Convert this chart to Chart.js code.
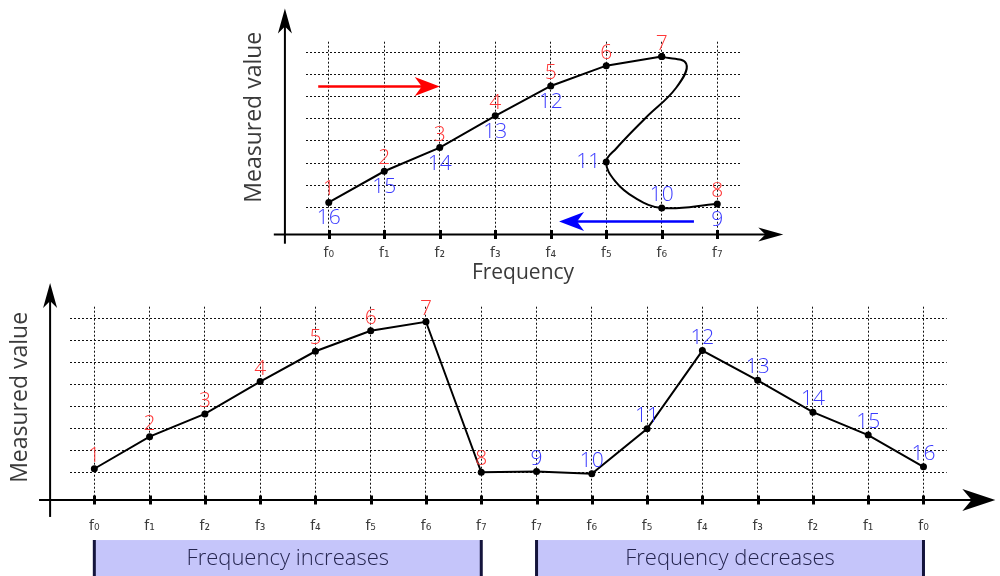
<!DOCTYPE html>
<html>
<head>
<meta charset="utf-8">
<title>Frequency sweep hysteresis</title>
<script src="https://cdn.jsdelivr.net/npm/chart.js@4.4.0/dist/chart.umd.min.js"></script>
<style>
  body { margin: 0; background: #fff; }
  #wrap { position: relative; width: 1000px; height: 576px; overflow: hidden; }
  canvas { position: absolute; left: 0; }
  #top { top: 0; }
  #bottom { top: 280px; }
</style>
</head>
<body>
<div id="wrap">
  <canvas id="top" width="1000" height="290"></canvas>
  <canvas id="bottom" width="1000" height="296"></canvas>
</div>
<script>
// frequency index of every measurement step 1..16 (up sweep, then down sweep)
var stepFreq = [0, 1, 2, 3, 4, 5, 6, 7, 7, 6, 5, 4, 3, 2, 1, 0];
var stepNames = ['1','2','3','4','5','6','7','8','9','10','11','12','13','14','15','16'];
var subDigits = ['\u2080','\u2081','\u2082','\u2083','\u2084','\u2085','\u2086','\u2087'];
var freqLabels = subDigits.map(function (d) { return 'f' + d; });
var sweepLabels = stepFreq.map(function (f) { return freqLabels[f]; });

var topValues = [1.22, 2.63, 3.70, 5.14, 6.49, 7.41, 7.82, 1.15, 1.15, 0.97, 3.05, 6.49, 5.14, 3.70, 2.63, 1.22];
// points the fold curve passes through: step 7 -> 11, then 11 -> 10
var bendFreq = [6.44, 6.26, 5.70, 5.18];
var bendValues = [7.50, 6.41, 5.02, 3.66];
var hookFreq = [5.16, 5.52];
var hookValues = [2.18, 1.42];

var bottomValues = [1.18, 2.64, 3.67, 5.14, 6.52, 7.45, 7.86, 1.02, 1.05, 0.95, 3.00, 6.55, 5.20, 3.75, 2.71, 1.27];

var gridLevels = [1, 2, 3, 4, 5, 6, 7, 8];

var RED = '#ff3838', BLUE = '#3b3bff', INK = '#3a3a3a';
var FAMILY = '"Open Sans", Lato, "DejaVu Sans", sans-serif';
var NUM_FONT = '300 21px ' + FAMILY;

Chart.defaults.font.family = FAMILY;

// where each step number sits on the upper plot
var topSide = ['above','above','above','above','above','above','above','above',
               'below','above','left','below','below','below','below','below'];
var topShift = { above: [0, -13], below: [0, 16], left: [-18, 0] };

function stealth(ctx, x, y, ang, len, half) {
  ctx.save();
  ctx.translate(x, y);
  ctx.rotate(ang);
  ctx.beginPath();
  ctx.moveTo(0, 0);
  ctx.lineTo(-len, -half);
  ctx.lineTo(-len * 0.72, 0);
  ctx.lineTo(-len, half);
  ctx.closePath();
  ctx.fill();
  ctx.restore();
}

var decor = {
  id: 'decor',
  beforeDatasetsDraw: function (chart, args, o) {
    var ctx = chart.ctx, xs = chart.scales.x, ys = chart.scales.y;
    var px = function (v) { return xs.getPixelForValue(v); };
    var py = function (v) { return ys.getPixelForValue(v); };
    var base = chart.chartArea.bottom;
    ctx.save();
    ctx.strokeStyle = '#000';
    ctx.fillStyle = '#000';
    ctx.lineWidth = 2;
    // x axis with arrow
    var xa = o.xAxis;
    ctx.beginPath();
    ctx.moveTo(px(xa.from), base);
    ctx.lineTo(px(xa.to) - xa.head[0] * 0.6, base);
    ctx.stroke();
    stealth(ctx, px(xa.to), base, 0, xa.head[0], xa.head[1]);
    // y axis with arrow
    var ya = o.yAxis;
    ctx.beginPath();
    ctx.moveTo(px(ya.at), py(ya.from));
    ctx.lineTo(px(ya.at), py(ya.to) + ya.head[0] * 0.6);
    ctx.stroke();
    stealth(ctx, px(ya.at), py(ya.to), -Math.PI / 2, ya.head[0], ya.head[1]);
    // tick marks across the axis
    ctx.lineWidth = 3;
    xs.ticks.forEach(function (t) {
      var x = Math.round(px(t.value)) + 0.5;
      ctx.beginPath();
      ctx.moveTo(x, base - 4.5);
      ctx.lineTo(x, base + 4.5);
      ctx.stroke();
    });
    // coloured sweep arrows
    (o.arrows || []).forEach(function (a) {
      var x1 = px(a.from[0]), y1 = py(a.from[1]), x2 = px(a.to[0]), y2 = py(a.to[1]);
      var ang = Math.atan2(y2 - y1, x2 - x1);
      ctx.strokeStyle = a.color;
      ctx.fillStyle = a.color;
      ctx.lineWidth = 2.5;
      ctx.beginPath();
      ctx.moveTo(x1, y1);
      ctx.lineTo(x2 - 15 * Math.cos(ang), y2 - 15 * Math.sin(ang));
      ctx.stroke();
      stealth(ctx, x2, y2, ang, 25, 9.5);
    });
    // sweep-direction boxes under the axis
    (o.boxes || []).forEach(function (b) {
      var x1 = px(b.from), x2 = px(b.to), y1 = py(b.top), y2 = py(b.bottom);
      ctx.fillStyle = '#c5c5fa';
      ctx.fillRect(x1, y1, x2 - x1, y2 - y1);
      ctx.strokeStyle = '#14143c';
      ctx.lineWidth = 3;
      ctx.beginPath();
      ctx.moveTo(x1, y1); ctx.lineTo(x1, y2);
      ctx.moveTo(x2, y1); ctx.lineTo(x2, y2);
      ctx.stroke();
      ctx.fillStyle = '#25254f';
      ctx.font = '300 22px ' + FAMILY;
      ctx.textAlign = 'center';
      ctx.textBaseline = 'middle';
      ctx.fillText(b.text, (x1 + x2) / 2, (y1 + y2) / 2 + 1);
    });
    ctx.restore();
  },
  afterDatasetsDraw: function (chart, args, o) {
    var ctx = chart.ctx, xs = chart.scales.x, ys = chart.scales.y;
    ctx.save();
    ctx.font = NUM_FONT;
    ctx.textAlign = 'center';
    ctx.textBaseline = 'middle';
    o.tags.forEach(function (t) {
      var s = topShift[t.side];
      ctx.fillStyle = t.color;
      ctx.fillText(t.text, xs.getPixelForValue(t.x) + s[0], ys.getPixelForValue(t.y) + s[1]);
    });
    ctx.restore();
  }
};

function freqTicks(n) {
  return function (s) {
    s.ticks = [];
    for (var i = 0; i < n; i++) s.ticks.push({ value: i });
  };
}
function levelTicks(s) {
  s.ticks = gridLevels.map(function (v) { return { value: v }; });
}
function gridOpts() {
  return { color: '#111', lineWidth: 1, drawTicks: false };
}
var tickFont = { family: '"DejaVu Sans", sans-serif', size: 14 };

// ---------- upper plot: value against frequency ----------
var upPts = [];
for (var i = 0; i < 7; i++) upPts.push({ x: stepFreq[i], y: topValues[i] });
// fold: step 7, round the bend, step 11, hook, step 10, step 8
var foldPts = [{ x: stepFreq[6], y: topValues[6] }];
var foldRadius = [3.5];
bendFreq.forEach(function (f, k) { foldPts.push({ x: f, y: bendValues[k] }); foldRadius.push(0); });
foldPts.push({ x: stepFreq[10], y: topValues[10] }); foldRadius.push(3.5);
hookFreq.forEach(function (f, k) { foldPts.push({ x: f, y: hookValues[k] }); foldRadius.push(0); });
foldPts.push({ x: stepFreq[9], y: topValues[9] }); foldRadius.push(3.5);
foldPts.push({ x: stepFreq[7], y: topValues[7] }); foldRadius.push(3.5);

var topTags = stepNames.map(function (n, k) {
  return { text: n, x: stepFreq[k], y: topValues[k], side: topSide[k], color: k < 8 ? RED : BLUE };
});

new Chart(document.getElementById('top'), {
  type: 'line',
  data: {
    datasets: [
      { data: upPts, borderColor: '#000', borderWidth: 2, tension: 0,
        pointRadius: 3.5, pointBackgroundColor: '#000', pointBorderWidth: 0 },
      { data: foldPts, borderColor: '#000', borderWidth: 2, tension: 0.4,
        pointRadius: foldRadius, pointBackgroundColor: '#000', pointBorderWidth: 0 }
    ]
  },
  options: {
    responsive: false, animation: false, devicePixelRatio: 1,
    layout: { padding: { top: 41.7, right: 260, bottom: 0, left: 0 } },
    plugins: {
      legend: { display: false }, tooltip: { enabled: false },
      decor: {
        xAxis: { from: -0.99, to: 8.19, head: [25, 7] },
        yAxis: { at: -0.79, from: -0.65, to: 10.0, head: [25, 7] },
        arrows: [
          { from: [-0.19, 6.47], to: [2.0, 6.47], color: '#ff0000' },
          { from: [6.58, 0.35], to: [4.15, 0.35], color: '#0000ff' }
        ],
        tags: topTags
      }
    },
    scales: {
      x: {
        type: 'linear', min: -0.41, max: 7.41,
        afterBuildTicks: freqTicks(freqLabels.length),
        ticks: { callback: function (v) { return freqLabels[v]; }, padding: 10.6, color: INK,
                 font: tickFont, autoSkip: false, maxRotation: 0 },
        grid: gridOpts(), border: { display: false, dash: [2, 2] },
        title: { display: true, text: 'Frequency', color: INK, font: { size: 21 },
                 padding: { top: -11.7, bottom: 4 } }
      },
      y: {
        type: 'linear', min: -0.233, max: 8.495,
        afterBuildTicks: levelTicks,
        ticks: { display: false },
        grid: gridOpts(), border: { display: false, dash: [2, 2] },
        title: { display: true, text: '       Measured value', color: INK, font: { size: 23 },
                 padding: { top: 240.2, bottom: 38.2 } }
      }
    }
  },
  plugins: [decor]
});

// ---------- lower plot: value against step of the sweep ----------
var sweepPts = bottomValues.map(function (v, k) { return { x: k, y: v }; });
var bottomTags = stepNames.map(function (n, k) {
  return { text: n, x: k, y: bottomValues[k], side: 'above', color: k < 8 ? RED : BLUE };
});

new Chart(document.getElementById('bottom'), {
  type: 'line',
  data: {
    datasets: [
      { data: sweepPts, borderColor: '#000', borderWidth: 2, tension: 0,
        pointRadius: 3.5, pointBackgroundColor: '#000', pointBorderWidth: 0 }
    ]
  },
  options: {
    responsive: false, animation: false, devicePixelRatio: 1,
    layout: { padding: { top: 26.7, right: 53.3, bottom: 24, left: 0 } },
    plugins: {
      legend: { display: false }, tooltip: { enabled: false },
      decor: {
        xAxis: { from: -1.0, to: 16.3, head: [33, 11] },
        yAxis: { at: -0.8, from: -1.01, to: 9.62, head: [25, 7] },
        boxes: [
          { from: 0, to: 7, top: -2.06, bottom: -3.7, text: 'Frequency increases' },
          { from: 8, to: 15, top: -2.06, bottom: -3.7, text: 'Frequency decreases' }
        ],
        tags: bottomTags
      }
    },
    scales: {
      x: {
        type: 'linear', min: -0.44, max: 15.42,
        afterBuildTicks: freqTicks(sweepLabels.length),
        ticks: { callback: function (v) { return sweepLabels[v]; }, padding: 17.6, color: INK,
                 font: tickFont, autoSkip: false, maxRotation: 0 },
        grid: gridOpts(), border: { display: false, dash: [2, 2] }
      },
      y: {
        type: 'linear', min: -0.24, max: 8.545,
        afterBuildTicks: levelTicks,
        ticks: { display: false },
        grid: gridOpts(), border: { display: false, dash: [2, 2] },
        title: { display: true, text: '  Measured value', color: INK, font: { size: 23 },
                 padding: { top: 6.2, bottom: 36.2 } }
      }
    }
  },
  plugins: [decor]
});
</script>
</body>
</html>
